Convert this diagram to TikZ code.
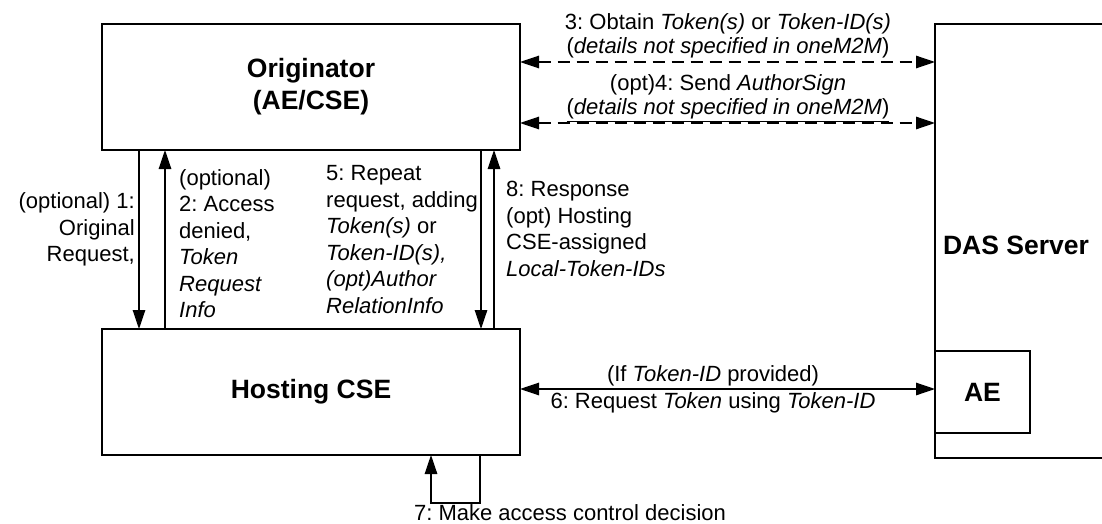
\documentclass[tikz,border=0pt]{standalone}
\usepackage{fontspec}
\setmainfont{Liberation Sans}
\frenchspacing
\usetikzlibrary{positioning, arrows.meta}

\tikzset{
  box/.style={draw, rectangle, line width=1.3pt, inner sep=0pt, outer sep=0pt, align=center,
    font=\fontsize{26.5}{32}\selectfont\bfseries},
  lbl/.style={inner sep=0pt, font=\fontsize{22}{26.5}\selectfont},
  duo/.style={lbl, align=center, font=\fontsize{22}{24}\selectfont},
  msg/.style={line width=1.3pt, ->},
  dmsg/.style={line width=1.3pt, <->, dash pattern=on 12pt off 7pt},
}

\begin{document}
\begin{tikzpicture}[x=1pt,y=-1pt,>={Triangle[length=19pt,width=12.5pt]}]
  \useasboundingbox (0,0) rectangle (1102,524);
  \clip (0,0) rectangle (1102,524);
  \node[box, minimum width=418pt, minimum height=126pt] (orig) at (311,87) {Originator\\(AE/CSE)};
  \node[box, minimum width=418pt, minimum height=126pt, below=179pt of orig] (host) {Hosting CSE};
  \node[box, minimum width=220pt, minimum height=434pt, anchor=north west] (das) at (935,24) {};
  \node[box, minimum width=95pt, minimum height=82pt, anchor=north west] (ae) at (935,351) {AE};
  \node[box, draw=none] (dasname) at (1016,245) {DAS Server};

  \coordinate (m1) at ([xshift=37pt]orig.south west);
  \coordinate (m2) at ([xshift=63pt]host.north west);
  \coordinate (m5) at ([xshift=379pt]orig.south west);
  \coordinate (m8) at ([xshift=392pt]host.north west);
  \coordinate (m3) at ([yshift=-38pt]orig.north east);
  \coordinate (m4) at ([yshift=-99pt]orig.north east);
  \coordinate (m6) at ([yshift=3pt]host.east);
  \coordinate (m7a) at ([xshift=378pt]host.south west);
  \coordinate (m7b) at ([xshift=329pt]host.south west);

  \draw[msg] (m1) -- (m1 |- host.north);
  \draw[msg] (m2) -- (m2 |- orig.south);
  \draw[msg] (m5) -- (m5 |- host.north);
  \draw[msg] (m8) -- (m8 |- orig.south);
  \draw[dmsg] (m3) -- (m3 -| das.west);
  \draw[dmsg] (m4) -- (m4 -| das.west);
  \draw[msg, <->] (m6) -- (m6 -| ae.west);
  \draw[msg] (m7a) -- ++(0,48) -| (m7b);

  \node[lbl, align=right, anchor=north east] (t1) at (135,192.5) {(optional) 1:\\Original\\Request,};
  \node[lbl, align=left, anchor=north west] (t2) at (179,169) {(optional)\\2: Access\\denied,\\\textit{Token}\\\textit{Request}\\\textit{Info}};
  \node[lbl, align=left, anchor=north west] (t5) at (326,165.5) {5: Repeat\\request, adding\\\textit{Token(s)} or\\\textit{Token-ID(s),}\\\textit{(opt)Author}\\\textit{RelationInfo}};
  \node[lbl, align=left, anchor=north west] (t8) at (506,181) {8: Response\\(opt) Hosting\\CSE-assigned\\\textit{Local-Token-IDs}};
  \node[duo, anchor=south] (t3) at (728,58) {3: Obtain \textit{Token(s)} or \textit{Token-ID(s)}\\(\textit{details not specified in oneM2M})};
  \node[duo, anchor=south] (t4) at (728,121.5) {(opt)4: Send \textit{AuthorSign}\\\underline{(\textit{details not specified in oneM2M})}};
  \node[lbl, anchor=south] (t6a) at (713,386.5) {(If \textit{Token-ID} provided)};
  \node[lbl, anchor=north] (t6b) at (713,392.5) {6: Request \textit{Token} using \textit{Token-ID}};
  \node[lbl, anchor=base] (t7) at (570,520) {7: Make access control decision};
\end{tikzpicture}
\end{document}
